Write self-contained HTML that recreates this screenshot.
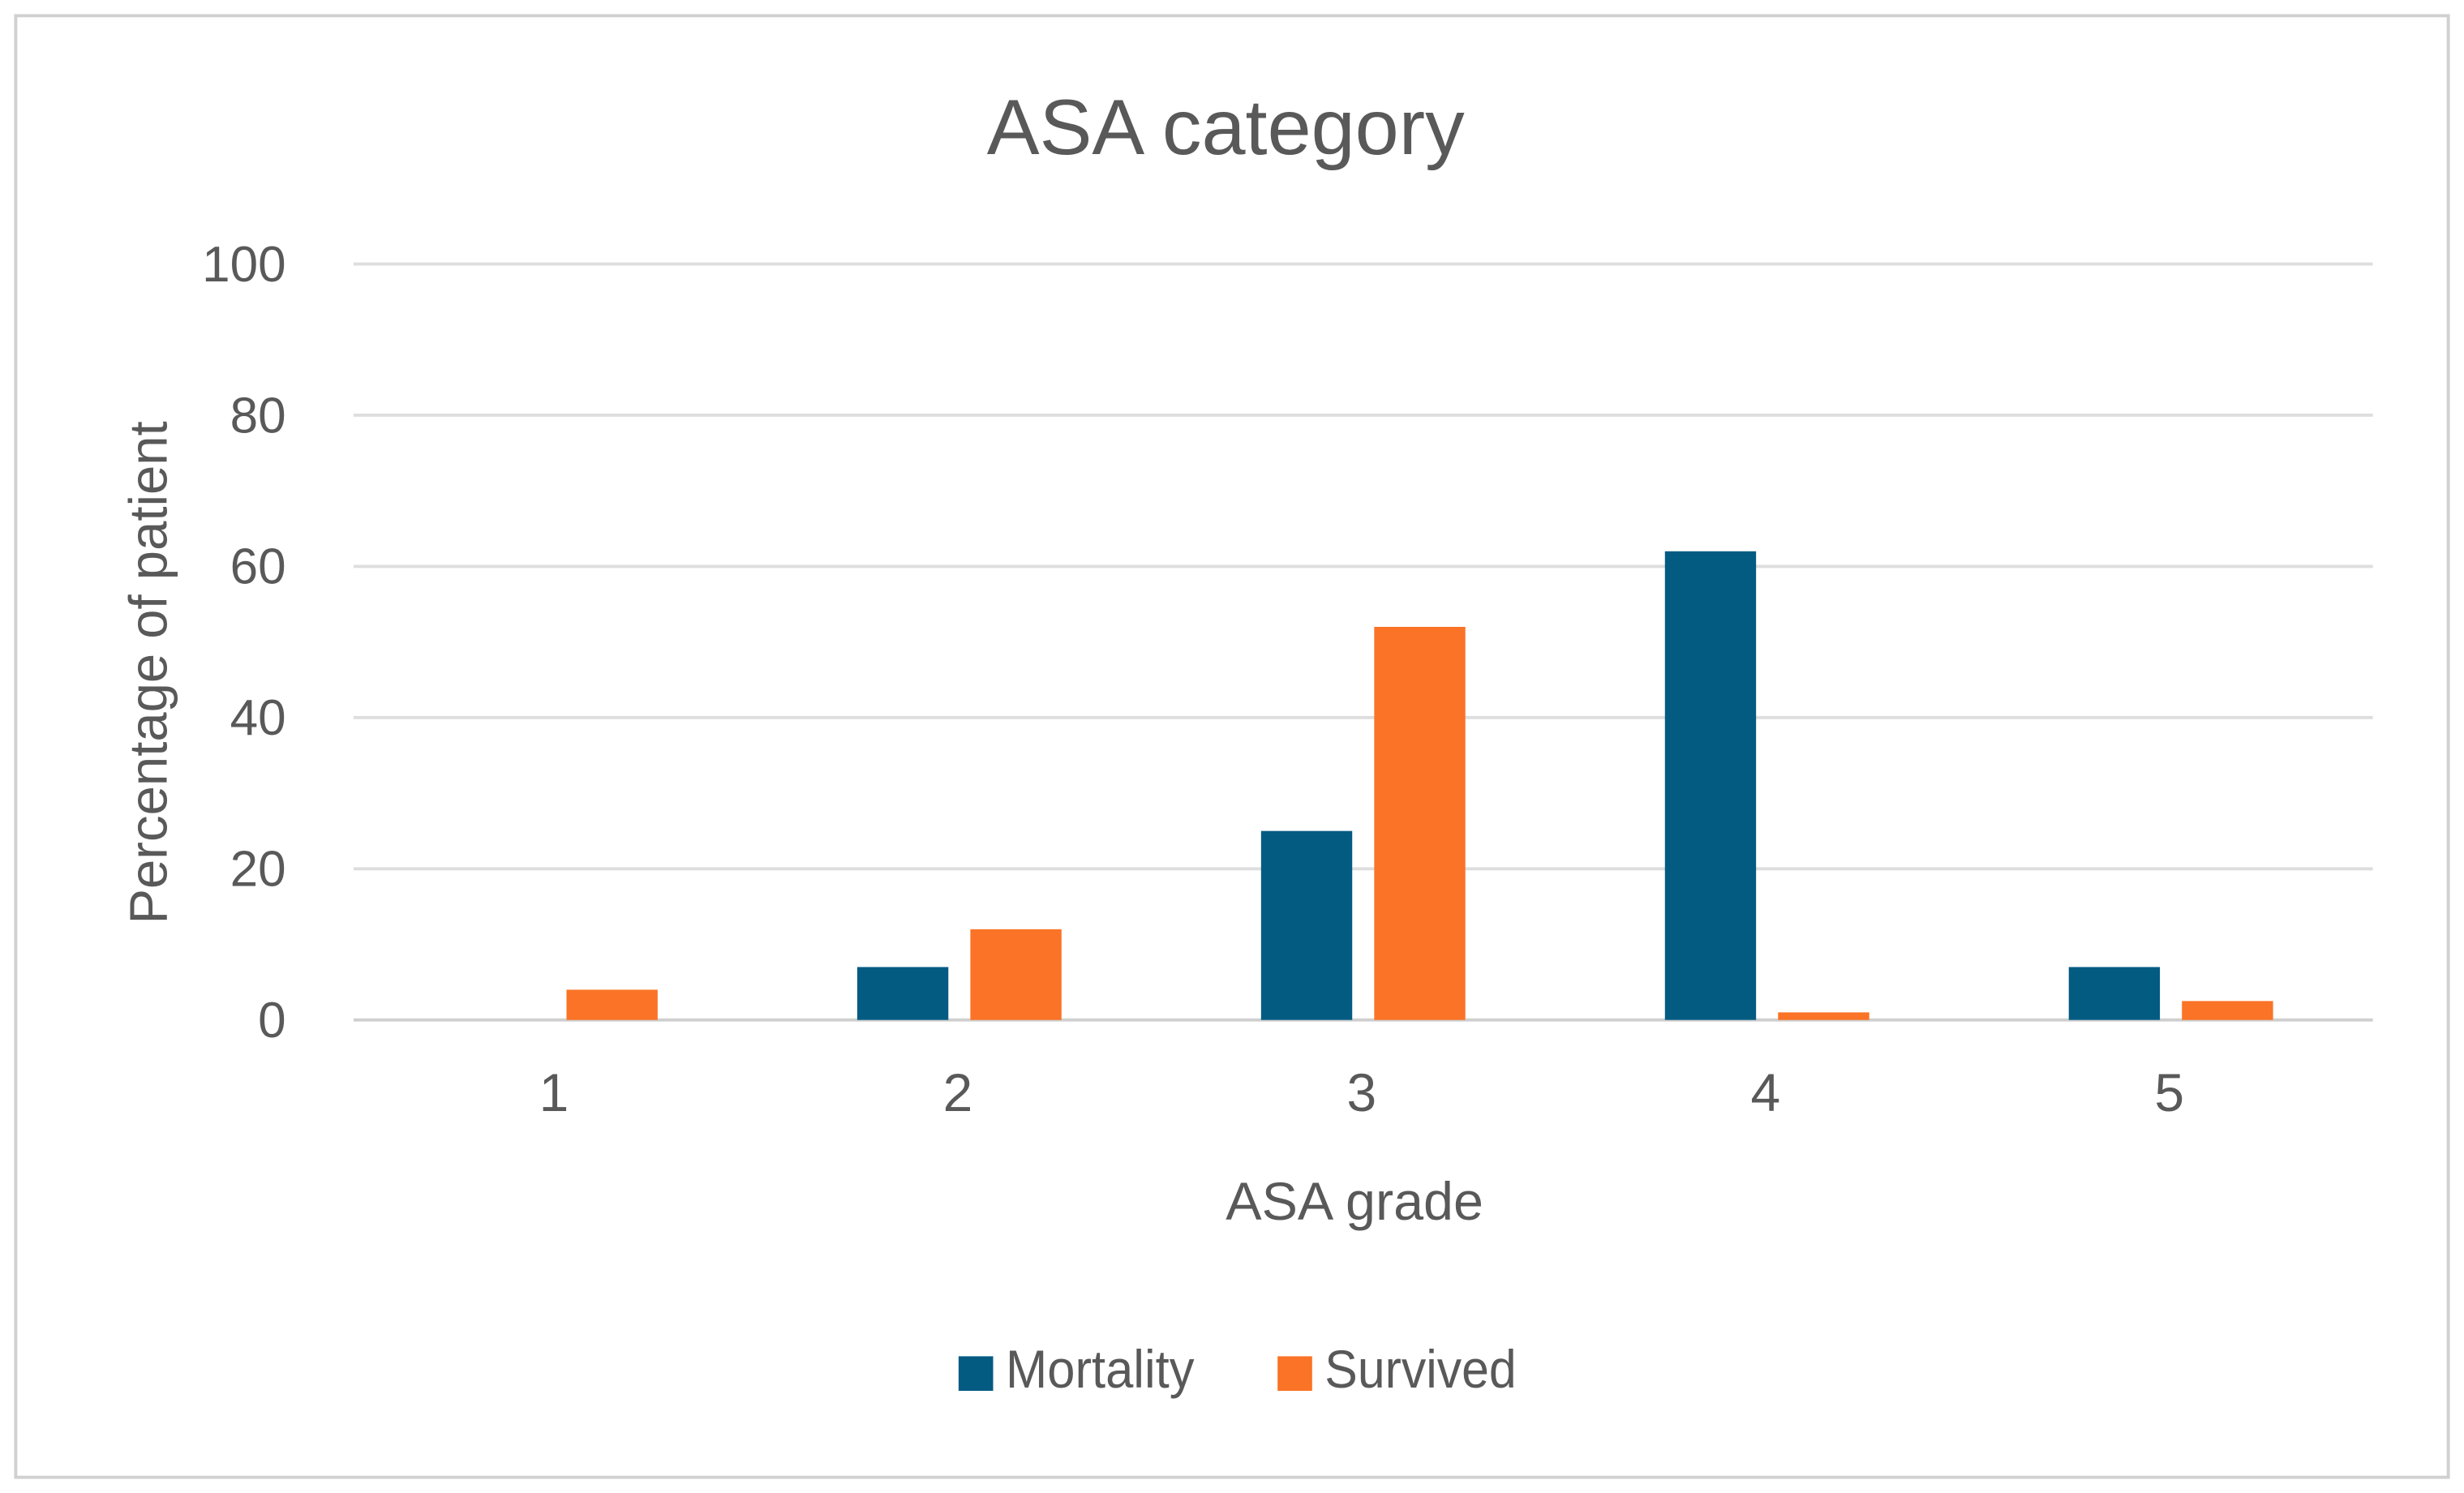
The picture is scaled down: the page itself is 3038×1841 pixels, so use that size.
<!DOCTYPE html>
<html><head><meta charset="utf-8">
<style>
html,body{margin:0;padding:0;background:#fff;}
svg{display:block;}
text{font-family:"Liberation Sans",Arial,sans-serif;fill:#595959;}
</style></head>
<body>
<svg id="chart" width="3038" height="1841" viewBox="0 0 1568 950" preserveAspectRatio="none" xmlns="http://www.w3.org/2000/svg">
<rect x="10" y="10" width="1548" height="930" fill="#fff" stroke="#d0d0d0" stroke-width="2"/>
<text x="780" y="98" font-size="50" text-anchor="middle" textLength="304" lengthAdjust="spacingAndGlyphs">ASA category</text>
<g id="grid"></g>
<g id="bars"></g>
<g id="xticks"></g>
<text transform="translate(106,428) rotate(-90)" font-size="34" text-anchor="middle" textLength="320" lengthAdjust="spacingAndGlyphs">Percentage of patient</text>
<text x="862" y="776" font-size="34" text-anchor="middle" textLength="164" lengthAdjust="spacingAndGlyphs">ASA grade</text>
<g>
<rect x="610" y="863" width="22" height="22" fill="#045b82"/>
<text x="640" y="883" font-size="34" textLength="120" lengthAdjust="spacingAndGlyphs">Mortality</text>
<rect x="813" y="863" width="22" height="22" fill="#fa7326"/>
<text x="843" y="883" font-size="34" textLength="122" lengthAdjust="spacingAndGlyphs">Survived</text>
</g>
</svg>
<script>
const categories = ["1","2","3","4","5"];
const mortality = [0, 7, 25, 62, 7];
const survived = [4, 12, 52, 1, 2.5];
const yTicks = [0, 20, 40, 60, 80, 100];

const NS = "http://www.w3.org/2000/svg";
const plotLeft = 225, plotRight = 1510, y0 = 649, y100 = 168;
const yScale = v => y0 - (v / 100) * (y0 - y100);
const band = (plotRight - plotLeft) / categories.length;
const xCenter = i => plotLeft + band * (i + 0.5) - 1;
const barW = 58;

const grid = document.getElementById('grid');
yTicks.forEach(t => {
  const l = document.createElementNS(NS, 'line');
  
  
  l.setAttribute('x1', plotLeft); l.setAttribute('x2', plotRight);
  l.setAttribute('y1', yScale(t)); l.setAttribute('y2', yScale(t));
  l.setAttribute('stroke', t === 0 ? '#cfcfcf' : '#dedede');
  l.setAttribute('stroke-width', '2');
  grid.appendChild(l);
  const tx = document.createElementNS(NS, 'text');
  
  
  tx.setAttribute('x', 182); tx.setAttribute('y', yScale(t) + 11);
  tx.setAttribute('font-size', '32'); tx.setAttribute('text-anchor', 'end');
  tx.textContent = t;
  grid.appendChild(tx);
});

const bars = document.getElementById('bars');
const xt = document.getElementById('xticks');
categories.forEach((c, i) => {
  const cx = xCenter(i);
  const m = document.createElementNS(NS, 'rect');
  
  
  m.setAttribute('x', cx - 64); m.setAttribute('width', barW);
  m.setAttribute('y', yScale(mortality[i])); m.setAttribute('height', y0 - yScale(mortality[i]));
  m.setAttribute('fill', '#045b82');
  bars.appendChild(m);
  const s = document.createElementNS(NS, 'rect');
  
  
  s.setAttribute('x', cx + 8); s.setAttribute('width', barW);
  s.setAttribute('y', yScale(survived[i])); s.setAttribute('height', y0 - yScale(survived[i]));
  s.setAttribute('fill', '#fa7326');
  bars.appendChild(s);
  const t = document.createElementNS(NS, 'text');
  
  
  t.setAttribute('x', cx); t.setAttribute('y', 707);
  t.setAttribute('font-size', '34'); t.setAttribute('text-anchor', 'middle');
  t.textContent = c;
  xt.appendChild(t);
});
</script>
</body></html>
